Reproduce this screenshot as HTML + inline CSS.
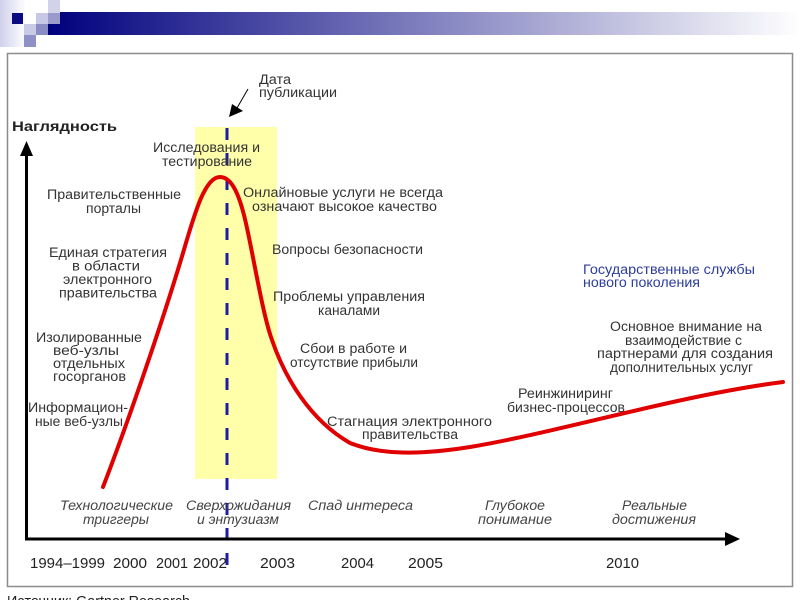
<!DOCTYPE html>
<html><head><meta charset="utf-8"><style>
html,body{margin:0;padding:0;background:#fff;}
svg{display:block;}
text{font-family:"Liberation Sans","DejaVu Sans",sans-serif;}
</style></head><body>
<svg width="800" height="600" viewBox="0 0 800 600" xmlns="http://www.w3.org/2000/svg">
<defs>
<linearGradient id="band" x1="0" x2="1" y1="0" y2="0">
<stop offset="0" stop-color="#00007e"/><stop offset="1" stop-color="#ffffff"/>
</linearGradient>
<linearGradient id="lstrip" x1="0" x2="1" y1="0" y2="0">
<stop offset="0" stop-color="#d0d0ec"/><stop offset="1" stop-color="#ffffff"/>
</linearGradient>
</defs>
<rect x="0" y="0" width="800" height="600" fill="#fff"/>
<!-- header decoration -->
<rect x="0" y="0" width="26" height="47" fill="url(#lstrip)"/>
<rect x="48" y="12" width="752" height="23" fill="url(#band)"/>
<rect x="12" y="13" width="11" height="11" fill="#0a0a82"/>
<rect x="36" y="13" width="12" height="11" fill="#c6c8e6"/>
<rect x="48" y="0" width="12" height="13" fill="#d2d2ea"/>
<rect x="48" y="13" width="12" height="11" fill="#9a9acc"/>
<rect x="24" y="24" width="12" height="11" fill="#c8cae6"/>
<rect x="36" y="24" width="12" height="11" fill="#8c8cc4"/>
<rect x="24" y="35" width="12" height="12" fill="#9090c8"/>
<!-- frame -->
<rect x="7.5" y="53.5" width="785" height="533" fill="none" stroke="#8c8c8c" stroke-width="1.5"/>
<!-- yellow band -->
<rect x="195" y="127" width="82" height="352" fill="#ffffaa"/>
<!-- dashed line -->
<line x1="227" y1="128" x2="227" y2="569" stroke="#1c1ca4" stroke-width="3" stroke-dasharray="12 13"/>
<!-- axes -->
<line x1="26.5" y1="154" x2="26.5" y2="540" stroke="#000" stroke-width="3"/>
<polygon points="26.5,141 20,156 33,156" fill="#000"/>
<line x1="25" y1="539" x2="727" y2="539" stroke="#000" stroke-width="3"/>
<polygon points="740,539 725,532 725,546" fill="#000"/>
<!-- curve -->
<path d="M103,487 C125,430 160,330 183,253 C195,212 205,177 220,177 C232,177 240,195 247,228 C255,265 263,315 272,340 C285,378 310,420 350,443 C380,455 420,455 470,447 C560,432 680,395 783,382" fill="none" stroke="#e00000" stroke-width="4" stroke-linecap="round"/>
<!-- publication date arrow -->
<line x1="248" y1="89" x2="237" y2="108" stroke="#000" stroke-width="1"/>
<polygon points="229,117 232,104 243,111" fill="#000"/>
<g fill="#333" font-size="13.5">
<text x="259" y="84" textLength="32" lengthAdjust="spacingAndGlyphs">Дата</text>
<text x="259" y="97" textLength="78" lengthAdjust="spacingAndGlyphs">публикации</text>
</g>
<!-- y label -->
<text x="12" y="131" font-size="14" font-weight="bold" fill="#222" textLength="105" lengthAdjust="spacingAndGlyphs">Наглядность</text>
<!-- labels -->
<g fill="#333" font-size="13.5">
<text x="153" y="152" textLength="107" lengthAdjust="spacingAndGlyphs">Исследования и</text>
<text x="162" y="166" textLength="90" lengthAdjust="spacingAndGlyphs">тестирование</text>
<text x="47" y="199" textLength="134" lengthAdjust="spacingAndGlyphs">Правительственные</text>
<text x="86" y="213" textLength="55" lengthAdjust="spacingAndGlyphs">порталы</text>
<text x="49" y="257" textLength="118" lengthAdjust="spacingAndGlyphs">Единая стратегия</text>
<text x="72" y="270.5" textLength="68" lengthAdjust="spacingAndGlyphs">в области</text>
<text x="63" y="284" textLength="89" lengthAdjust="spacingAndGlyphs">электронного</text>
<text x="59" y="297.5" textLength="98" lengthAdjust="spacingAndGlyphs">правительства</text>
<text x="36" y="342" textLength="106" lengthAdjust="spacingAndGlyphs">Изолированные</text>
<text x="53" y="355" textLength="66" lengthAdjust="spacingAndGlyphs">веб-узлы</text>
<text x="53" y="368" textLength="72" lengthAdjust="spacingAndGlyphs">отдельных</text>
<text x="53" y="381" textLength="73" lengthAdjust="spacingAndGlyphs">госорганов</text>
<text x="28" y="412" textLength="100" lengthAdjust="spacingAndGlyphs">Информацион-</text>
<text x="35" y="426" textLength="88" lengthAdjust="spacingAndGlyphs">ные веб-узлы</text>
<text x="243" y="197" textLength="200" lengthAdjust="spacingAndGlyphs">Онлайновые услуги не всегда</text>
<text x="252" y="211" textLength="185" lengthAdjust="spacingAndGlyphs">означают высокое качество</text>
<text x="272" y="254" textLength="151" lengthAdjust="spacingAndGlyphs">Вопросы безопасности</text>
<text x="273" y="301" textLength="152" lengthAdjust="spacingAndGlyphs">Проблемы управления</text>
<text x="318" y="315" textLength="62" lengthAdjust="spacingAndGlyphs">каналами</text>
<text x="300" y="353" textLength="107" lengthAdjust="spacingAndGlyphs">Сбои в работе и</text>
<text x="290" y="367" textLength="128" lengthAdjust="spacingAndGlyphs">отсутствие прибыли</text>
<text x="327" y="426" textLength="165" lengthAdjust="spacingAndGlyphs">Стагнация электронного</text>
<text x="362" y="439" textLength="96" lengthAdjust="spacingAndGlyphs">правительства</text>
<text x="610" y="331" textLength="152" lengthAdjust="spacingAndGlyphs">Основное внимание на</text>
<text x="625" y="345" textLength="117" lengthAdjust="spacingAndGlyphs">взаимодействие с</text>
<text x="597" y="358" textLength="176" lengthAdjust="spacingAndGlyphs">партнерами для создания</text>
<text x="610" y="372" textLength="143" lengthAdjust="spacingAndGlyphs">дополнительных услуг</text>
<text x="518" y="398" textLength="95" lengthAdjust="spacingAndGlyphs">Реинжиниринг</text>
<text x="507" y="412" textLength="118" lengthAdjust="spacingAndGlyphs">бизнес-процессов</text>
</g>
<g fill="#2b3d9c" font-size="13.5">
<text x="583" y="274" textLength="172" lengthAdjust="spacingAndGlyphs">Государственные службы</text>
<text x="583" y="287" textLength="117" lengthAdjust="spacingAndGlyphs">нового поколения</text>
</g>
<!-- phases -->
<g fill="#444" font-size="13.5" font-style="italic">
<text x="60" y="510" textLength="113" lengthAdjust="spacingAndGlyphs">Технологические</text>
<text x="83" y="524" textLength="66" lengthAdjust="spacingAndGlyphs">триггеры</text>
<text x="186" y="510" textLength="105" lengthAdjust="spacingAndGlyphs">Сверхожидания</text>
<text x="197" y="524" textLength="82" lengthAdjust="spacingAndGlyphs">и энтузиазм</text>
<text x="308" y="510" textLength="105" lengthAdjust="spacingAndGlyphs">Спад интереса</text>
<text x="485" y="510" textLength="60" lengthAdjust="spacingAndGlyphs">Глубокое</text>
<text x="478" y="524" textLength="74" lengthAdjust="spacingAndGlyphs">понимание</text>
<text x="622" y="510" textLength="65" lengthAdjust="spacingAndGlyphs">Реальные</text>
<text x="612" y="524" textLength="84" lengthAdjust="spacingAndGlyphs">достижения</text>
</g>
<!-- years -->
<g fill="#222" font-size="15">
<text x="30" y="568" textLength="75" lengthAdjust="spacingAndGlyphs">1994–1999</text>
<text x="113" y="568" textLength="34" lengthAdjust="spacingAndGlyphs">2000</text>
<text x="156" y="568" textLength="32" lengthAdjust="spacingAndGlyphs">2001</text>
<text x="193" y="568" textLength="34" lengthAdjust="spacingAndGlyphs">2002</text>
<text x="260" y="568" textLength="35" lengthAdjust="spacingAndGlyphs">2003</text>
<text x="341" y="568" textLength="33" lengthAdjust="spacingAndGlyphs">2004</text>
<text x="408" y="568" textLength="35" lengthAdjust="spacingAndGlyphs">2005</text>
<text x="606" y="568" textLength="33" lengthAdjust="spacingAndGlyphs">2010</text>
</g>
<text x="7" y="606" font-size="15" fill="#222" textLength="183" lengthAdjust="spacingAndGlyphs">Источник: Gartner Research</text>
</svg>
</body></html>
